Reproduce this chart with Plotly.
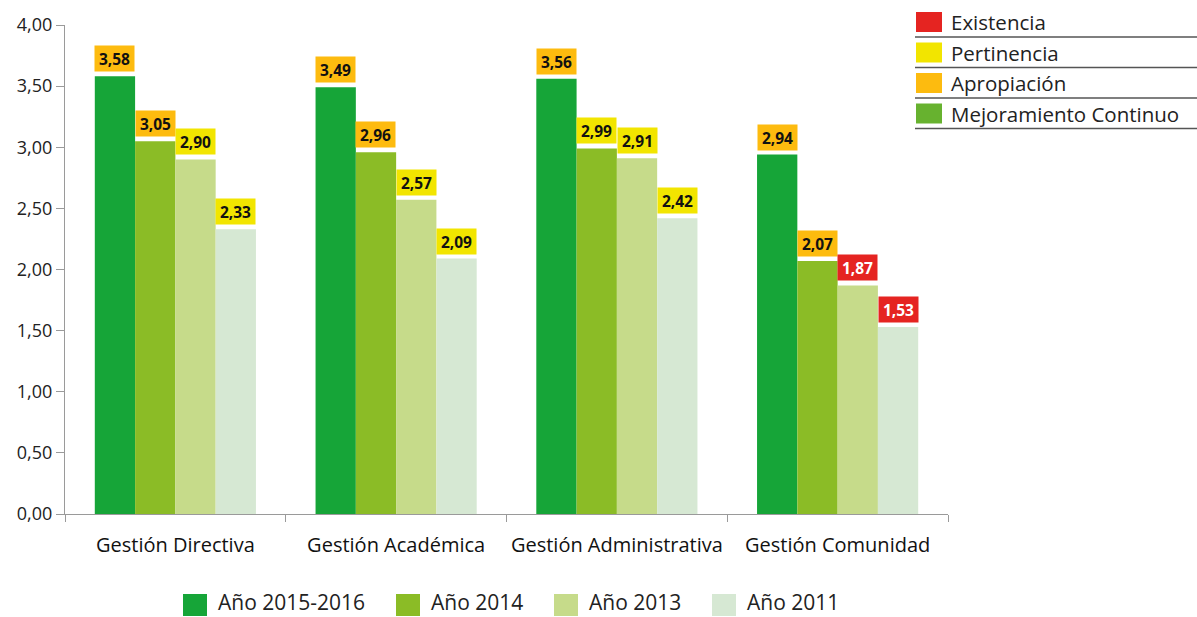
import plotly.graph_objects as go

categories = ["Gestión Directiva", "Gestión Académica", "Gestión Administrativa", "Gestión Comunidad"]
series_names = ["Año 2015-2016", "Año 2014", "Año 2013", "Año 2011"]
v2015 = [3.58, 3.49, 3.56, 2.94]
v2014 = [3.05, 2.96, 2.99, 2.07]
v2013 = [2.90, 2.57, 2.91, 1.87]
v2011 = [2.33, 2.09, 2.42, 1.53]
# label levels per bar: E=Existencia, P=Pertinencia, A=Apropiación, M=Mejoramiento
lvl2015 = ["A", "A", "A", "A"]
lvl2014 = ["A", "A", "P", "A"]
lvl2013 = ["P", "P", "P", "E"]
lvl2011 = ["P", "P", "P", "E"]
level_names = ["Existencia", "Pertinencia", "Apropiación", "Mejoramiento Continuo"]
y_ticks = [0, 0.5, 1, 1.5, 2, 2.5, 3, 3.5, 4]

series_vals = [v2015, v2014, v2013, v2011]
series_lvls = [lvl2015, lvl2014, lvl2013, lvl2011]
bar_colors = ["#16A538", "#8BBC26", "#C6DB8A", "#D6E8D3"]
level_colors = {"E": "#E52421", "P": "#F2E500", "A": "#FDBB0F", "M": "#67B22F"}
level_text = {"E": "white", "P": "#111111", "A": "#111111", "M": "#111111"}
level_keys = ["E", "P", "A", "M"]

W, H = 1197, 617
ml, mr, mt, mb = 65, 249, 25, 103
pw = W - ml - mr
ph = H - mt - mb

def px(x):
    return (x - ml) / pw

def py(y):
    return 1 - (y - mt) / ph

FONT = "Open Sans"
fig = go.Figure()
for name, vals, col in zip(series_names, series_vals, bar_colors):
    fig.add_trace(go.Bar(x=categories, y=vals, name=name, marker_color=col,
                         marker_line_width=0, showlegend=False))

bargap = 0.27
cat_px = pw / len(categories)
bar_px = cat_px * (1 - bargap) / 4
annotations = []
for i, (vals, lvls) in enumerate(zip(series_vals, series_lvls)):
    for c, v, l in zip(categories, vals, lvls):
        annotations.append(dict(
            x=c, y=v, xref="x", yref="y", yanchor="bottom", xanchor="center",
            xshift=(i - 1.5) * bar_px, yshift=4,
            text="<b>" + f"{v:.2f}".replace(".", ",") + "</b>",
            showarrow=False, bgcolor=level_colors[l], width=39, height=25,
            borderpad=0, font=dict(family=FONT, size=15.5, color=level_text[l])))

shapes = []
# top-right legend
for k, (key, nm) in enumerate(zip(level_keys, level_names)):
    top = 12 + k * 30.5
    shapes.append(dict(type="rect", xref="paper", yref="paper",
                       x0=px(916), x1=px(942), y0=py(top + 20), y1=py(top),
                       fillcolor=level_colors[key], line_width=0))
    shapes.append(dict(type="line", xref="paper", yref="paper",
                       x0=px(915), x1=px(1197), y0=py(top + 25), y1=py(top + 25),
                       line=dict(color="#555555", width=1.3)))
    annotations.append(dict(x=px(949), y=py(top + 10), xref="paper", yref="paper",
                            xanchor="left", yanchor="middle", showarrow=False,
                            text=nm, font=dict(family=FONT, size=20.5, color="#222222")))

# bottom legend
leg_x = [183, 396, 554, 712]
for sx, nm, col in zip(leg_x, series_names, bar_colors):
    shapes.append(dict(type="rect", xref="paper", yref="paper",
                       x0=px(sx), x1=px(sx + 24), y0=py(616), y1=py(594),
                       fillcolor=col, line_width=0))
    annotations.append(dict(x=px(sx + 33), y=py(602), xref="paper", yref="paper",
                            xanchor="left", yanchor="middle", showarrow=False,
                            text=nm, font=dict(family=FONT, size=21, color="#222222")))

fig.update_layout(
    width=W, height=H, margin=dict(l=ml, r=mr, t=mt, b=mb, autoexpand=False),
    paper_bgcolor="white", plot_bgcolor="white",
    barmode="group", bargap=bargap, bargroupgap=0,
    separators=",.",
    font=dict(family=FONT, color="#222222"),
    showlegend=False,
    xaxis=dict(showline=True, linecolor="#9a9a9a", linewidth=1.3,
               ticks="outside", tickson="boundaries", ticklen=7, tickcolor="#9a9a9a",
               tickfont=dict(family=FONT, size=20, color="#111111"),
               tickangle=0, automargin=False,
               ticklabelstandoff=13, showgrid=False),
    yaxis=dict(range=[0, 4], tickvals=y_ticks, tickformat=".2f",
               showline=True, linecolor="#9a9a9a", linewidth=1.3,
               ticks="outside", ticklen=8, tickcolor="#9a9a9a",
               tickfont=dict(family=FONT, size=18, color="#222222"),
               automargin=False, showgrid=False, zeroline=False),
    annotations=annotations, shapes=shapes,
)
fig.write_html("out.html", config={"displayModeBar": False},
               post_script="document.body.style.margin='0px';")
